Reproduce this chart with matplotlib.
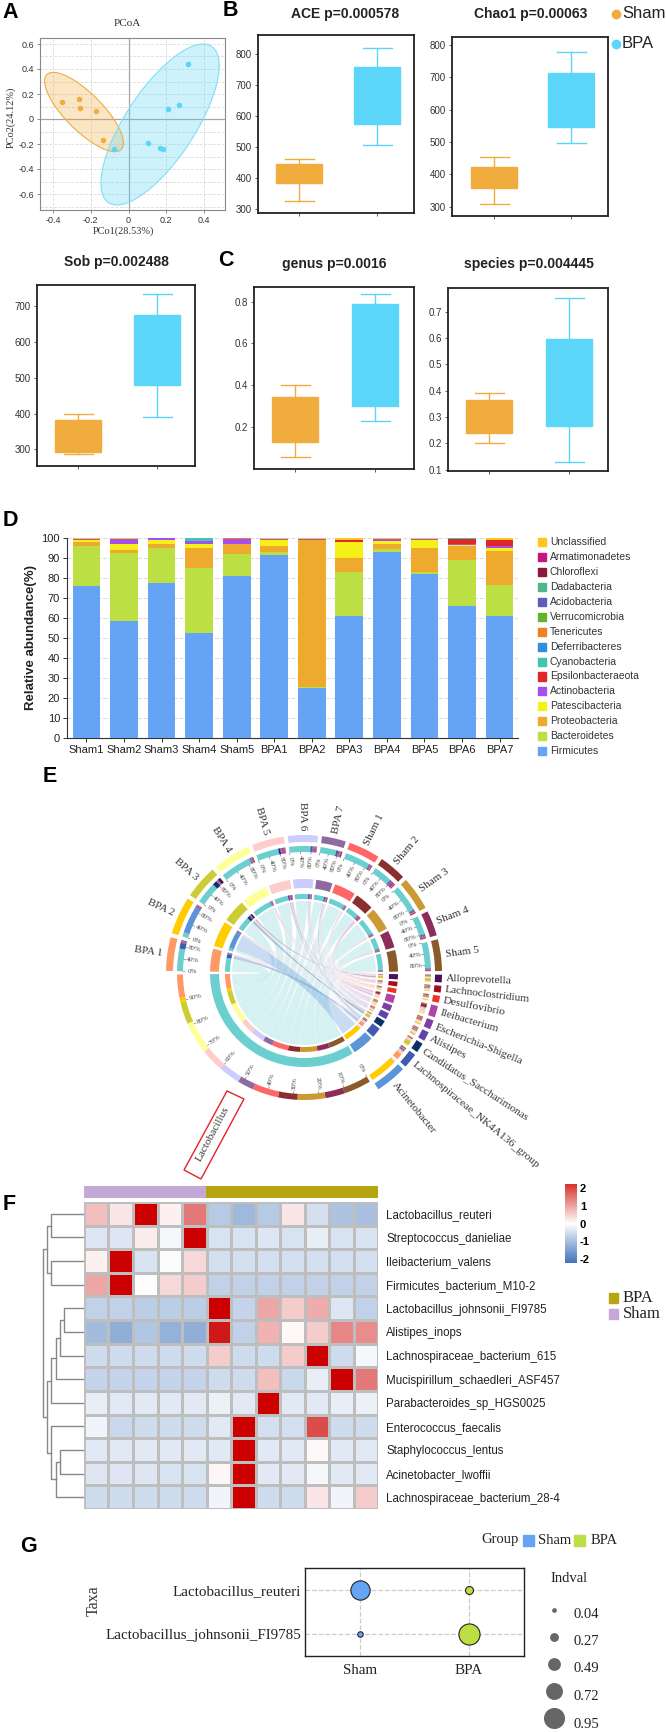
import numpy as np
import matplotlib
matplotlib.use("Agg")
import matplotlib.pyplot as plt
from matplotlib.colors import LinearSegmentedColormap
from matplotlib.patches import Wedge, PathPatch, Rectangle, Polygon
from matplotlib.path import Path

plt.rcParams['font.family'] = ['Liberation Sans', 'DejaVu Sans']
W, H = 666, 1732
SERIF = ['Liberation Serif', 'DejaVu Serif']
SHAM = '#F0AD3E'
BPA = '#5CD6F8'

# panel A
sham_x = [-0.35, -0.26, -0.255, -0.17, -0.135]
sham_y = [0.14, 0.16, 0.09, 0.065, -0.165]
bpa_x = [0.315, 0.265, 0.21, 0.105, 0.165, 0.18, -0.075]
bpa_y = [0.44, 0.115, 0.08, -0.195, -0.235, -0.24, -0.24]
# centre x, centre y, half width, half height, correlation
sham_ell = (-0.236, 0.056, 0.209, 0.317, -0.78)
bpa_ell = (0.167, -0.044, 0.313, 0.644, 0.73)

# box panels: whisker low, q1, q3, whisker high
ace = [[325, 385, 445, 460], [507, 575, 757, 818]]
chao = [[310, 357, 424, 453], [497, 548, 714, 778]]
sob = [[287, 291, 383, 398], [390, 480, 675, 735]]
genus = [[0.055, 0.13, 0.345, 0.40], [0.228, 0.30, 0.79, 0.835]]
species = [[0.20, 0.24, 0.365, 0.39], [0.128, 0.265, 0.597, 0.752]]

# panel D
samples = ['Sham1', 'Sham2', 'Sham3', 'Sham4', 'Sham5', 'BPA1', 'BPA2', 'BPA3', 'BPA4', 'BPA5', 'BPA6', 'BPA7']
phyla = ['Firmicutes', 'Bacteroidetes', 'Proteobacteria', 'Patescibacteria', 'Actinobacteria',
         'Epsilonbacteraeota', 'Cyanobacteria', 'Deferribacteres', 'Tenericutes', 'Verrucomicrobia',
         'Acidobacteria', 'Dadabacteria', 'Chloroflexi', 'Armatimonadetes', 'Unclassified']
phyla_col = ['#65A3F5', '#BCDF43', '#EDAA2D', '#F5F018', '#A64FEF', '#E02828', '#3FC6B0', '#2F8FDD',
             '#F08020', '#62B32C', '#5E5EB8', '#4FB88A', '#8B1A3E', '#C71585', '#FFC61E']
firmicutes = [76, 58.7, 77.6, 52.5, 81, 91.6, 24.8, 61, 93, 81.8, 66.2, 61]
bacteroidetes = [20, 33.6, 17.4, 32.5, 11, 1.6, 0.7, 22, 1.5, 1.4, 22.8, 15.6]
proteobacteria = [2, 1.7, 2, 10, 4.8, 2.8, 73.5, 7, 2.5, 11.8, 7.2, 17]
patescibacteria = [1, 3, 1.9, 2, 0.2, 3.2, 0.1, 7.8, 1.5, 4, 0.1, 1.4]
actinobacteria = [0.7, 2.7, 0.9, 1.6, 2.5, 0.5, 0.2, 0.1, 1, 0.5, 0.9, 1]
epsilon = [0, 0, 0, 0, 0, 0, 0, 1, 0, 0, 2.3, 2.8]
cyano = [0, 0, 0, 1.2, 0.2, 0, 0, 0, 0, 0, 0.3, 0.3]
deferri = [0, 0, 0, 0, 0, 0, 0, 0, 0, 0, 0, 0.1]
tener = [0, 0, 0, 0, 0.2, 0, 0, 0, 0, 0, 0, 0]
verruco = [0] * 12
acido = [0] * 12
dada = [0] * 12
chloro = [0] * 12
armati = [0] * 12
unclass = [0.3, 0.3, 0.2, 0.2, 0.1, 0.3, 0.7, 1.1, 0.5, 0.4, 0.2, 0.8]
stack = [firmicutes, bacteroidetes, proteobacteria, patescibacteria, actinobacteria, epsilon, cyano,
         deferri, tener, verruco, acido, dada, chloro, armati, unclass]

# panel E
chord_samples = ['BPA 1', 'BPA 2', 'BPA 3', 'BPA 4', 'BPA 5', 'BPA 6', 'BPA 7',
                 'Sham 1', 'Sham 2', 'Sham 3', 'Sham 4', 'Sham 5']
sample_col = ['#FF9966', '#FFCC00', '#CCCC33', '#FFFF99', '#FFCCCC', '#CCCCFF', '#8F6A9F',
              '#FF6666', '#8B2E2E', '#CC9933', '#8B2D5A', '#8B5A2B']
taxa = ['Alloprevotella', 'Lachnoclostridium', 'Desulfovibrio', 'Ileibacterium', 'Escherichia-Shigella',
        'Alistipes', 'Candidatus_Saccharimonas', 'Lachnospiraceae_NK4A136_group', 'Acinetobacter', 'Lactobacillus']
taxa_col = ['#4B0F5A', '#A00F1E', '#EE3322', '#B044A0', '#7D3FA0', '#5E45A8', '#0B3068', '#3F5AB0', '#5B95D8', '#6BCFD0']
links = np.array([
    [.2, .2, .2, .1, .3, .3, .1, 3.0, .0, 11.6],
    [.1, .2, .3, .1, .4, .2, .2, .2, 14.0, 2.2],
    [1.5, .1, .1, .2, .2, .5, 2.2, .3, .0, 10.9],
    [.3, .2, .4, .3, .4, .3, .1, .1, .0, 15.9],
    [.1, .2, .2, 1.5, .3, .4, .9, .2, .1, 11.4],
    [.2, .3, .2, .6, .3, .5, .1, 1.0, .1, 10.9],
    [.2, .5, .3, .2, .3, .5, .1, 1.1, .1, 8.1],
    [.1, .3, .3, .2, .5, .4, .1, .1, .1, 12.9],
    [.2, .3, .2, 1.6, .4, .3, .3, .1, .0, 9.6],
    [.2, .3, .3, .2, .5, .4, .1, .2, .0, 13.8],
    [.2, .3, .4, .1, .3, .3, .2, .5, .0, 9.7],
    [.2, .2, .2, .2, .3, .2, .1, .1, .0, 13.5],
])

# panel F
species_names = ['Lactobacillus_reuteri', 'Streptococcus_danieliae', 'Ileibacterium_valens', 'Firmicutes_bacterium_M10-2',
                 'Lactobacillus_johnsonii_FI9785', 'Alistipes_inops', 'Lachnospiraceae_bacterium_615',
                 'Mucispirillum_schaedleri_ASF457', 'Parabacteroides_sp_HGS0025', 'Enterococcus_faecalis',
                 'Staphylococcus_lentus', 'Acinetobacter_lwoffii', 'Lachnospiraceae_bacterium_28-4']
heat = np.array([
    [.5, .2, 2, .12, 1.05, -.75, -1.0, -.75, .2, -.45, -.85, -.9],
    [-.35, -.35, .15, -.1, 2, -.4, -.4, -.35, -.4, -.25, -.4, -.4],
    [.12, 2, -.4, -.05, .3, -.45, -.45, -.45, -.45, -.45, -.45, -.45],
    [.7, 2, -.03, .3, .4, -.65, -.65, -.65, -.65, -.65, -.65, -.65],
    [-.65, -.65, -.7, -.7, -.7, 2, -.6, .7, .4, .65, -.35, -.65],
    [-.95, -1.15, -.8, -1.1, -1.15, 1.8, -.65, .6, .05, .4, .95, .9],
    [-.5, -.5, -.5, -.5, -.5, .4, -.5, -.5, .4, 2, -.5, -.1],
    [-.6, -.6, -.6, -.6, -.6, -.5, -.5, .5, -.55, -.25, 2, 1.05],
    [-.25, -.3, -.3, -.3, -.3, -.2, -.3, 2, -.3, -.3, -.25, -.2],
    [-.15, -.55, -.5, -.5, -.5, -.3, 2, -.45, -.45, 1.4, -.5, -.5],
    [-.3, -.3, -.3, -.3, -.3, -.3, 2, -.3, -.3, .05, -.3, -.3],
    [-.35, -.35, -.35, -.4, -.4, .07, 2, -.3, -.3, -.1, -.3, -.3],
    [-.5, -.5, -.5, -.5, -.5, -.15, 2, -.5, -.5, .2, -.15, .4],
])
n_sham_cols = 5
# row dendrogram: child, child, height; nodes 0-12 are the rows, new nodes count on from 13
merges = [(0, 1, 32.6), (2, 3, 32.6), (13, 14, 36.6), (4, 5, 20), (16, 6, 24), (17, 7, 28), (18, 8, 32.6),
          (10, 11, 24), (20, 12, 28), (9, 21, 32.6), (19, 22, 36.6), (15, 23, 40.6)]

# panel G
g_taxa = ['Lactobacillus_reuteri', 'Lactobacillus_johnsonii_FI9785']
g_groups = ['Sham', 'BPA']
g_indval = [[0.85, 0.22], [0.08, 0.95]]
g_legend = [0.04, 0.27, 0.49, 0.72, 0.95]

fig = plt.figure(figsize=(W / 100, H / 100), dpi=100)


def px_axes(x0, y0, x1, y1, **kw):
    return fig.add_axes([x0 / W, 1 - y1 / H, (x1 - x0) / W, (y1 - y0) / H], **kw)


def txt(x, y, s, **kw):
    kw.setdefault('ha', 'center')
    kw.setdefault('va', 'center')
    fig.text(x / W, 1 - y / H, s, **kw)


def box_panel(frame, centres, ylim, yticks, fmt, data, title, title_xy):
    x0, y0, x1, y1 = frame
    ax = px_axes(x0, y0, x1, y1)
    unit = centres[1] - centres[0]
    ax.set_xlim(1 + (x0 - centres[0]) / unit, 1 + (x1 - centres[0]) / unit)
    for k, (d, c) in enumerate(zip(data, [SHAM, BPA])):
        st = [dict(whislo=d[0], q1=d[1], med=(d[1] + d[2]) / 2, q3=d[2], whishi=d[3], fliers=[])]
        ax.bxp(st, positions=[k + 1], widths=46 / unit, patch_artist=True, showfliers=False,
               boxprops=dict(facecolor=c, edgecolor=c), medianprops=dict(color=c, linewidth=0),
               whiskerprops=dict(color=c, linewidth=1.0), capprops=dict(color=c, linewidth=1.0),
               capwidths=29 / unit, manage_ticks=False)
    ax.set_ylim(*ylim)
    ax.set_yticks(yticks)
    ax.set_yticklabels([fmt % v for v in yticks], fontsize=7, color='#333333')
    ax.set_xticks([1, 2])
    ax.set_xticklabels(['', ''])
    ax.tick_params(length=2.5, width=0.6, pad=2, color='#444444')
    for s in ax.spines.values():
        s.set_linewidth(1.3)
        s.set_color('#222222')
    txt(title_xy[0], title_xy[1], title, fontsize=10, fontweight='bold', color='#222222')


# panel letters
for letter, x, y in [('A', 10, 12), ('B', 230, 11), ('C', 226, 261), ('D', 10, 520),
                     ('E', 50, 776), ('F', 9, 1204), ('G', 28, 1547)]:
    txt(x, y, letter, fontsize=15.5, fontweight='bold', color='black')

# A
ax = px_axes(40, 38, 225, 210)
ax.set_xlim(-0.469, 0.511)
ax.set_ylim(-0.728, 0.648)
t = np.linspace(0, 2 * np.pi, 200)
for e, c, ec in [(sham_ell, SHAM, SHAM), (bpa_ell, BPA, '#7FE0F5')]:
    ex = e[0] + e[2] * np.cos(t)
    ey = e[1] + e[3] * np.cos(t - np.arccos(e[4]))
    ax.fill(ex, ey, color=c, alpha=0.3, lw=0, zorder=2)
    ax.plot(ex, ey, color=ec, lw=0.8, zorder=3)
ax.axhline(0, color='#A5A5A5', lw=0.9, zorder=1)
ax.axvline(0, color='#A5A5A5', lw=0.9, zorder=1)
ax.scatter(sham_x, sham_y, s=16, color=SHAM, lw=0, zorder=4)
ax.scatter(bpa_x, bpa_y, s=16, color=BPA, lw=0, zorder=4)
ax.set_xticks([-0.4, -0.2, 0, 0.2, 0.4])
ax.set_xticklabels(['-0.4', '-0.2', '0', '0.2', '0.4'])
ax.set_yticks([-0.6, -0.4, -0.2, 0, 0.2, 0.4, 0.6])
ax.set_yticklabels(['-0.6', '-0.4', '-0.2', '0', '0.2', '0.4', '0.6'])
ax.set_yticks(np.arange(-7, 7) / 10, minor=True)
ax.tick_params(labelsize=6.5, length=2.5, width=0.6, pad=2, color='#777777', labelcolor='#333333')
ax.tick_params(which='minor', length=0)
ax.grid(True, which='both', axis='y', ls='--', color='#DCDCDC', lw=0.6, zorder=0)
ax.grid(True, axis='x', ls='--', color='#DCDCDC', lw=0.6, zorder=0)
ax.set_axisbelow(True)
for s in ax.spines.values():
    s.set_color('#888888')
    s.set_linewidth(0.8)
txt(127, 24, 'PCoA', family=SERIF, fontsize=8, color='#333333')
txt(123, 231, 'PCo1(28.53%)', family=SERIF, fontsize=7.5, color='#333333')
txt(11, 117, 'PCo2(24.12%)', family=SERIF, fontsize=7.5, color='#333333', rotation=90)

# B, C
box_panel((258, 35, 414, 213), (299, 377), (287, 861), [300, 400, 500, 600, 700, 800], '%d', ace,
          'ACE p=0.000578', (345, 14))
box_panel((452, 37, 608, 216), (494, 571), (272, 824), [300, 400, 500, 600, 700, 800], '%d', chao,
          'Chao1 p=0.00063', (531, 14))
box_panel((37, 285, 195, 466), (78, 157), (253, 760), [300, 400, 500, 600, 700], '%d', sob,
          'Sob p=0.002488', (116, 262))
box_panel((254, 287, 414, 469), (295, 375), (0.0, 0.87), [0.2, 0.4, 0.6, 0.8], '%.1f', genus,
          'genus p=0.0016', (334, 264))
box_panel((448, 288, 608, 471), (489, 569), (0.095, 0.79), [0.1, 0.2, 0.3, 0.4, 0.5, 0.6, 0.7], '%.1f', species,
          'species p=0.004445', (529, 264))

for y, name, c in [(14, 'Sham', SHAM), (44, 'BPA', BPA)]:
    fig.add_artist(plt.Line2D([616 / W], [1 - y / H], marker='o', ms=6, color=c, transform=fig.transFigure))
    txt(622, y, name, ha='left', fontsize=12, color='#222222')

# D
ax = px_axes(67, 538, 518, 738)
pos = np.arange(1, 13)
bottom = np.zeros(12)
for vals, c in zip(stack, phyla_col):
    ax.bar(pos, vals, 0.74, bottom=bottom, color=c, lw=0, zorder=3)
    bottom += np.array(vals)
ax.set_xlim(0.483, 12.49)
ax.set_ylim(0, 100)
ax.set_yticks(np.arange(0, 101, 10))
ax.set_xticks(pos)
ax.set_xticklabels(samples)
ax.tick_params(labelsize=8, length=3, width=0.7, pad=2, color='#333333', labelcolor='#222222')
ax.grid(True, axis='y', ls='--', color='#DDDDDD', lw=0.8, zorder=0)
ax.spines['top'].set_visible(False)
ax.spines['right'].set_visible(False)
for s in ['left', 'bottom']:
    ax.spines[s].set_color('#333333')
txt(31, 638, 'Relative abundance(%)', fontsize=9.5, fontweight='bold', color='#222222', rotation=90)
for k, (name, c) in enumerate(zip(phyla, phyla_col)):
    y = 751 - k * 14.9
    fig.add_artist(Rectangle((538 / W, 1 - (y + 4) / H), 8 / W, 8 / H, color=c, transform=fig.transFigure))
    txt(550, y, name, ha='left', fontsize=7.5, color='#333333')

# E, chord diagram: axes in pixels around the centre
cx, cy = 304, 973
ax = px_axes(cx - 200, cy - 200, cx + 200, cy + 200)
ax.set_xlim(-200, 200)
ax.set_ylim(-200, 200)
ax.axis('off')


def ring(a0, a1, r0, r1, c):
    ax.add_patch(Wedge((0, 0), r1, a1, a0, width=r1 - r0, color=c, lw=0, zorder=3))


def pol(a, r):
    a = np.radians(a)
    return np.array([r * np.cos(a), r * np.sin(a)])


def arc(a0, a1, r):
    return [pol(a, r) for a in np.linspace(a0, a1, 12)]


def ribbon(a0, a1, b0, b1, c, alpha, z):
    verts, codes = [], []
    pts = arc(a0, a1, 72)
    verts += pts
    codes += [Path.MOVETO] + [Path.LINETO] * (len(pts) - 1)
    pts = arc(b0, b1, 72)
    verts += [(0, 0), pts[0]]
    codes += [Path.CURVE3, Path.CURVE3]
    verts += pts[1:]
    codes += [Path.LINETO] * (len(pts) - 1)
    verts += [(0, 0), arc(a0, a1, 72)[0]]
    codes += [Path.CURVE3, Path.CURVE3]
    ax.add_patch(PathPatch(Path(verts, codes), facecolor=c, alpha=alpha, edgecolor='white', lw=0.4, zorder=z))


def radial(a):
    return a if abs(a) <= 90 else a - 180 if a > 0 else a + 180


gap_s, gap_t = 1.7, 1.4
row_tot = links.sum(axis=1)
col_tot = links.sum(axis=0)
scale_s = (180 - gap_s * 12) / row_tot.sum()
scale_t = (180 - gap_t * 10) / col_tot.sum()
# start angle of each sector, clockwise
start_s, a = [], 180 - gap_s / 2
for v in row_tot:
    start_s.append(a)
    a -= v * scale_s + gap_s
start_t, a = [], -gap_t / 2
for v in col_tot:
    start_t.append(a)
    a -= v * scale_t + gap_t

# sample side stacks: Lactobacillus first, then the small taxa from big index to small
seg_s = {}
for i in range(12):
    a = start_s[i]
    a1 = a - row_tot[i] * scale_s
    ring(a, a1, 131, 138, sample_col[i])
    ring(a, a1, 85, 94, sample_col[i])
    for j in range(9, -1, -1):
        w = links[i, j] * scale_s
        if w <= 0:
            continue
        ring(a, a - w, 121, 127, taxa_col[j])
        ring(a, a - w, 74, 79, taxa_col[j])
        seg_s[i, j] = (a, a - w)
        a -= w
    ax.text(*pol((start_s[i] + a1) / 2, 143), chord_samples[i], family=SERIF, fontsize=8, color='#333333',
            rotation=radial((start_s[i] + a1) / 2), rotation_mode='anchor', va='center',
            ha='left' if abs((start_s[i] + a1) / 2) <= 90 else 'right')
    for f in [0, 40, 80]:
        b = start_s[i] - (start_s[i] - a1) * f / 100
        ax.plot(*zip(pol(b, 121), pol(b, 119)), color='#666666', lw=0.4, zorder=3)
        ax.text(*pol(b, 112), '%d%%' % f, family=SERIF, fontsize=5, color='#444444',
                rotation=radial(b), ha='center', va='center', rotation_mode='anchor')

# taxa side stacks: samples from last to first
seg_t = {}
for j in range(10):
    a = start_t[j]
    a1 = a - col_tot[j] * scale_t
    ring(a, a1, 85, 94, taxa_col[j])
    if j < 9:
        ring(a, a1, 131, 138, taxa_col[j])
        mid = (a + a1) / 2
        ax.text(*pol(mid, 142), taxa[j], family=SERIF, fontsize=8.2, color='#333333', rotation=mid,
                rotation_mode='anchor', ha='left', va='center')
    else:
        for f in range(0, 100, 10):
            b = a - (a - a1) * f / 100
            ax.plot(*zip(pol(b, 121), pol(b, 119)), color='#666666', lw=0.4, zorder=3)
            ax.text(*pol(b, 111), '%d%%' % f, family=SERIF, fontsize=5, color='#444444',
                    rotation=radial(b), ha='center', va='center', rotation_mode='anchor')
    for i in range(11, -1, -1):
        w = links[i, j] * scale_t
        if w <= 0:
            continue
        ring(a, a - w, 121, 127, sample_col[i])
        ring(a, a - w, 74, 79, sample_col[i])
        seg_t[i, j] = (a, a - w)
        a -= w

for j in range(10):
    for i in range(12):
        if (i, j) in seg_s:
            p, q = seg_s[i, j], seg_t[i, j]
            if j == 9:
                ribbon(p[0], p[1], q[0], q[1], taxa_col[j], 0.28, 1)
            else:
                ribbon(p[0], p[1], q[0], q[1], taxa_col[j], 0.32, 2)

fig.add_artist(Polygon(np.array([(227, 1091), (244, 1099), (201, 1179), (184, 1170)]) / [W, -H] + [0, 1],
                       closed=True, fill=False, edgecolor='#E8202A', lw=1, transform=fig.transFigure))
txt(213, 1134, 'Lactobacillus', family=SERIF, fontsize=8.2, color='#333333', rotation=62)

# F
ax = px_axes(84, 1186, 378, 1198)
ax.pcolormesh(np.array([[0] * n_sham_cols + [1] * (12 - n_sham_cols)]),
              cmap=LinearSegmentedColormap.from_list('grp', ['#C4A8D8', '#B5A50F']), edgecolors='face')
ax.axis('off')
cmap = LinearSegmentedColormap.from_list('heat', ['#3E72B8', '#FFFFFF', '#CC0000'])
ax = px_axes(84, 1202, 378, 1509)
ax.pcolormesh(heat, cmap=cmap, vmin=-2, vmax=2, edgecolors='#BEBEBE', linewidth=0.8)
ax.invert_yaxis()
ax.set_xticks([])
ax.set_yticks(np.arange(13) + 0.5)
ax.set_yticklabels(species_names, fontsize=8.3, color='#222222')
ax.yaxis.tick_right()
ax.tick_params(length=0, pad=6)
for s in ax.spines.values():
    s.set_visible(False)

# row dendrogram, heights in pixels from the heatmap edge
den = px_axes(14, 1202, 84, 1509)
den.set_xlim(70, 0)
den.set_ylim(13, 0)
den.axis('off')
node_y = {i: i + 0.5 for i in range(13)}
node_h = {i: 0 for i in range(13)}
for k, (a, b, h) in enumerate(merges):
    den.plot([node_h[a], h, h, node_h[b]], [node_y[a], node_y[a], node_y[b], node_y[b]], color='#888888', lw=1)
    node_y[13 + k] = (node_y[a] + node_y[b]) / 2
    node_h[13 + k] = h

ax = px_axes(565, 1184, 577, 1263)
ax.imshow(np.linspace(2.15, -2.15, 100)[:, None], cmap=LinearSegmentedColormap.from_list(
    'bar', ['#3E72B8', '#FFFFFF', '#D73027']), aspect='auto', extent=(0, 1, -2.2, 2.2), vmin=-2.2, vmax=2.2)
ax.set_xticks([])
ax.set_yticks([-2, -1, 0, 1, 2])
ax.set_yticklabels(['-2', '-1', '0', '1', '2'], fontweight='bold')
ax.yaxis.tick_right()
ax.tick_params(labelsize=8, length=0, pad=2)
for s in ax.spines.values():
    s.set_visible(False)

for y, name, c in [(1298, 'BPA', '#B5A50F'), (1314, 'Sham', '#C4A8D8')]:
    fig.add_artist(Rectangle((609 / W, 1 - (y + 5) / H), 9 / W, 10 / H, color=c, transform=fig.transFigure))
    txt(623, y, name, ha='left', family=SERIF, fontsize=12, color='#222222')

# G
ax = px_axes(305, 1568, 524, 1656)
ax.set_xlim(0.495, 2.505)
ax.set_ylim(1.5, -0.5)
cols = ['#65A3F5', '#BCDF43']


def diam(v):
    return (4 + 18 * v) * 0.72


for r in range(2):
    for c in range(2):
        ax.scatter(c + 1, r, s=diam(g_indval[r][c]) ** 2, color=cols[c], edgecolor='#222222', lw=0.8, zorder=3)
ax.set_xticks([1, 2])
ax.set_xticklabels(g_groups, family=SERIF, fontsize=10.8, color='#222222')
ax.set_yticks([0, 1])
ax.set_yticklabels(g_taxa, family=SERIF, fontsize=10.8, color='#222222')
ax.tick_params(length=0, pad=3)
ax.tick_params(axis='x', pad=6)
ax.grid(True, ls='--', color='#CCCCCC', lw=0.9, zorder=0)
ax.set_axisbelow(True)
for s in ax.spines.values():
    s.set_linewidth(1.0)
    s.set_color('#222222')
txt(94, 1601, 'Taxa', family=SERIF, fontsize=11.5, color='#333333', rotation=90)
txt(500, 1540, 'Group', family=SERIF, fontsize=10.5, color='#222222')
fig.add_artist(Rectangle((522.5 / W, 1 - 1546 / H), 11 / W, 11 / H, color=cols[0], transform=fig.transFigure))
txt(555, 1541, 'Sham', family=SERIF, fontsize=10.5, color='#222222')
fig.add_artist(Rectangle((574 / W, 1 - 1546 / H), 11 / W, 11 / H, color=cols[1], transform=fig.transFigure))
txt(604, 1541, 'BPA', family=SERIF, fontsize=10.5, color='#222222')
txt(550, 1578, 'Indval', ha='left', family=SERIF, fontsize=10.5, color='#222222')
lg = px_axes(540, 1600, 566, 1728)
lg.set_xlim(540, 566)
lg.set_ylim(1728, 1600)
lg.axis('off')
for k, v in enumerate(g_legend):
    lg.scatter(554, 1610 + k * 27, s=diam(v) ** 2, color='#666666', lw=0)
    txt(573, 1614 + k * 27.5, '%.2f' % v, ha='left', family=SERIF, fontsize=10.5, color='#222222')

fig.savefig('out.png', dpi=100)
